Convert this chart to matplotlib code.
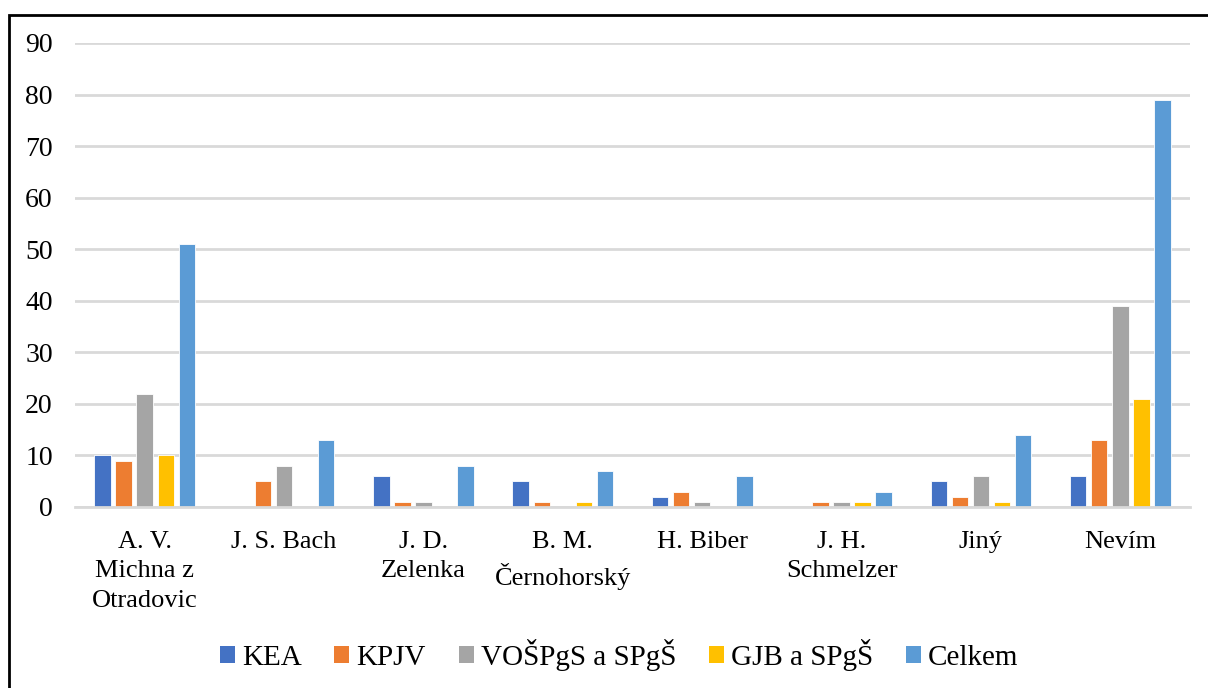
import matplotlib
matplotlib.use("Agg")
import matplotlib.pyplot as plt
import numpy as np
from matplotlib.patches import Rectangle

categories = ["A. V.\nMichna z\nOtradovic", "J. S. Bach", "J. D.\nZelenka", "B. M.\nČernohorský",
              "H. Biber", "J. H.\nSchmelzer", "Jiný", "Nevím"]
series_names = ["KEA", "KPJV", "VOŠPgS a SPgŠ", "GJB a SPgŠ", "Celkem"]
kea = [10, 0, 6, 5, 2, 0, 5, 6]
kpjv = [9, 5, 1, 1, 3, 1, 2, 13]
vospgs = [22, 8, 1, 0, 1, 1, 6, 39]
gjb = [10, 0, 0, 1, 0, 1, 1, 21]
celkem = [51, 13, 8, 7, 6, 3, 14, 79]
series = [kea, kpjv, vospgs, gjb, celkem]
colors = ["#4472C4", "#ED7D31", "#A5A5A5", "#FFC000", "#5B9BD5"]
yticks = list(range(0, 100, 10))

plt.rcParams['font.family'] = ['Liberation Serif', 'DejaVu Serif']

fig = plt.figure(figsize=(12.08, 6.88), dpi=100)
ax = fig.add_axes([75/1208, 1-507/688, (1190-75)/1208, (507-43)/688])

x = np.arange(len(categories))
step = 0.151
width = 0.118
for i, (vals, name, c) in enumerate(zip(series, series_names, colors)):
    ax.bar(x + (i - 2) * step, vals, width=width, color=c, label=name,
           edgecolor="white", linewidth=0.6, zorder=3)

ax.set_xlim(-0.5, len(categories) - 0.5)
ax.set_ylim(0, 90)
ax.set_yticks(yticks)
ax.set_xticks(x)
ax.set_xticklabels(categories, fontsize=19, linespacing=1.45)
ax.tick_params(axis='y', labelsize=20, length=0, pad=16)
ax.tick_params(axis='x', length=0, pad=17)
ax.grid(axis='y', color="#D9D9D9", linewidth=2, zorder=0)
for s in ["top", "right", "left"]:
    ax.spines[s].set_visible(False)
ax.spines["bottom"].set_color("#D9D9D9")
ax.spines["bottom"].set_linewidth(2)
ax.spines["bottom"].set_zorder(4)

leg = fig.legend(loc="center", bbox_to_anchor=(0.5 + 15/1208, 1 - 655/688), ncol=5, frameon=False,
                 fontsize=21, handlelength=0.51, handleheight=0.51, handletextpad=0.24,
                 columnspacing=1.13)
for h in leg.legend_handles:
    h.set_edgecolor("none")

frame = Rectangle((8.5/1208, -0.1), 1.2, 1 - 14.5/688 + 0.1, transform=fig.transFigure,
                  fill=False, edgecolor="black", linewidth=2, zorder=10)
fig.patches.append(frame)

fig.savefig("out.png", dpi=100, facecolor="white")
